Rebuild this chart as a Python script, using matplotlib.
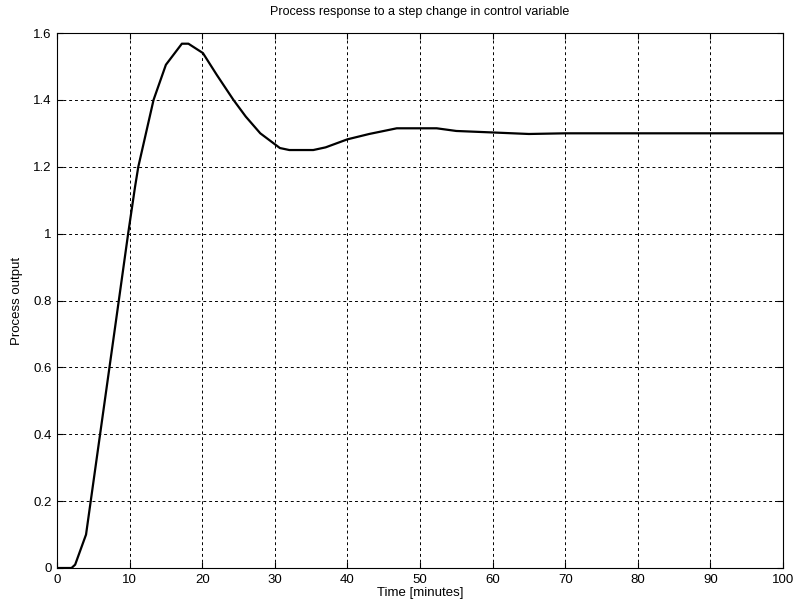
import matplotlib
matplotlib.use("Agg")
import matplotlib.pyplot as plt

time_min = [0, 2, 2.5, 4, 6, 8, 8.9, 9.8, 10.75, 11.2, 13.3, 15, 17.2, 18.1, 20.1,
            22, 24.3, 26, 28, 30.7, 32, 35.3, 37, 40, 43, 46.8, 52.3, 55, 60.6,
            65, 70, 80, 100]
output = [0, 0, 0.01, 0.1, 0.41, 0.72, 0.86, 1.0, 1.14, 1.2, 1.40, 1.505, 1.568,
          1.568, 1.54, 1.475, 1.40, 1.35, 1.30, 1.256, 1.25, 1.25, 1.258, 1.282,
          1.298, 1.315, 1.315, 1.307, 1.302, 1.298, 1.30, 1.30, 1.30]

xticks = [0, 10, 20, 30, 40, 50, 60, 70, 80, 90, 100]
yticks = [0, 0.2, 0.4, 0.6, 0.8, 1.0, 1.2, 1.4, 1.6]
ytick_labels = ["0", "0.2", "0.4", "0.6", "0.8", "1", "1.2", "1.4", "1.6"]

plt.rcParams['font.family'] = ['Liberation Sans', 'DejaVu Sans']
fig = plt.figure(figsize=(7.97, 6.03), dpi=100)
ax = fig.add_axes([57/797, 35/603, (783-57)/797, (568-33)/603])
ax.plot(time_min, output, color='black', lw=1.6)
ax.set_xlim(0, 100)
ax.set_ylim(0, 1.6)
ax.set_xticks(xticks)
ax.set_yticks(yticks)
ax.set_yticklabels(ytick_labels)
ax.grid(True, color='black', linestyle=(0, (3, 3)), lw=0.7)
ax.tick_params(direction='in', top=True, right=True, labelsize=9.5, length=4, pad=4)
for s in ax.spines.values():
    s.set_linewidth(0.8)
ax.set_title("Process response to a step change in control variable", fontsize=9, pad=13)
ax.set_xlabel("Time [minutes]", fontsize=9.5, labelpad=1)
ax.set_ylabel("Process output", fontsize=9.5, labelpad=7)
fig.savefig("out.png", dpi=100)
